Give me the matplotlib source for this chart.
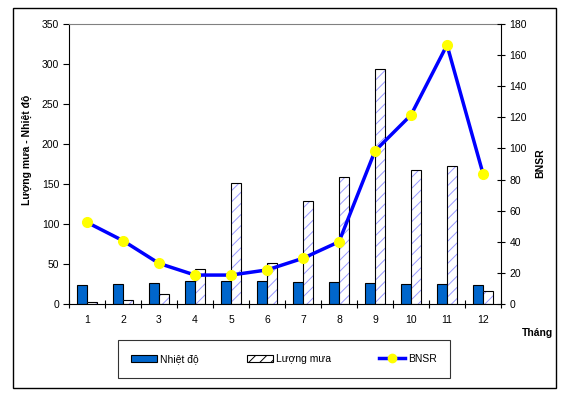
import numpy as np
import matplotlib
matplotlib.use("Agg")
import matplotlib.pyplot as plt
from matplotlib.patches import Rectangle, Patch
from matplotlib.lines import Line2D

plt.rcParams['font.family'] = ['Liberation Sans', 'DejaVu Sans']
plt.rcParams['font.size'] = 7.5
plt.rcParams['hatch.linewidth'] = 0.7

# data
months = ["1", "2", "3", "4", "5", "6", "7", "8", "9", "10", "11", "12"]
nhiet_do = [23.4, 24.6, 26.2, 28.7, 28.7, 28.7, 27.3, 27.5, 26.2, 25.0, 25.0, 23.7]
luong_mua = [2.5, 5.0, 12.5, 43.7, 151.0, 50.8, 128.7, 158.3, 293.3, 167.0, 172.0, 16.7]
bnsr = [52.5, 40.7, 26.1, 18.6, 18.6, 21.9, 29.4, 40.0, 98.4, 121.5, 166.5, 83.8]

W, H = 567, 399
fig = plt.figure(figsize=(W / 100, H / 100), dpi=100)

# outer chart frame
fig.patches.append(Rectangle((13 / W, 1 - 388 / H), (556 - 13) / W, (388 - 8) / H,
                             transform=fig.transFigure, fill=False, edgecolor='black', linewidth=1))

ax = fig.add_axes([69 / W, 1 - 304 / H, (501 - 69) / W, (304 - 24) / H])
x = np.arange(len(months))
bw = 0.29
ax.bar(x - bw / 2, nhiet_do, bw, color='#0066CC', edgecolor='black', linewidth=0.8, zorder=2)
ax.bar(x + bw / 2, luong_mua, bw, color='white', edgecolor='#9999FF', hatch='///', linewidth=0, zorder=2)
ax.bar(x + bw / 2, luong_mua, bw, fill=False, edgecolor='black', linewidth=0.8, zorder=3)

ax.set_xlim(-0.5, len(months) - 0.5)
ax.set_ylim(0, 350)
ax.set_yticks(np.arange(0, 351, 50))
ax.set_xticks(x)
ax.set_xticklabels(months)
ax.set_xticks(np.arange(-0.5, len(months), 1), minor=True)
ax.tick_params(axis='x', which='major', length=0, pad=8)
ax.tick_params(axis='x', which='minor', direction='inout', length=6, width=0.8)
ax.tick_params(axis='y', direction='out', length=4, width=0.8, pad=3)
ax.spines['top'].set_color('#808080')
ax.spines['right'].set_visible(False)
for s in ['left', 'bottom']:
    ax.spines[s].set_linewidth(0.8)

ax2 = ax.twinx()
ax2.plot(x, bnsr, color='#0000FF', linewidth=2.5, marker='o', markersize=7,
         markerfacecolor='#FFFF00', markeredgecolor='#FFFF00', zorder=4)
ax2.set_ylim(0, 180)
ax2.set_yticks(np.arange(0, 181, 20))
ax2.tick_params(axis='y', direction='inout', length=6, width=0.8, pad=3)
ax2.spines['right'].set_linewidth(0.8)
ax2.spines['top'].set_visible(False)
ax2.spines['left'].set_visible(False)
ax2.spines['bottom'].set_visible(False)

fig.text(27 / W, 1 - 150 / H, "Lượng mưa - Nhiệt độ", rotation=90, ha='center', va='center',
         fontweight='bold')
fig.text(540 / W, 1 - 163 / H, "BNSR", rotation=90, ha='center', va='center', fontweight='bold')
fig.text(538 / W, 1 - 333 / H, "Tháng", ha='center', va='center', fontweight='bold')

handles = [
    Patch(facecolor='#0066CC', edgecolor='black', linewidth=0.8),
    Patch(facecolor='white', edgecolor='black', hatch='///', linewidth=0.8),
    Line2D([], [], color='#0000FF', linewidth=2.5, marker='o', markersize=6,
           markerfacecolor='#FFFF00', markeredgecolor='#FFFF00'),
]
leg = fig.legend(handles, ["Nhiệt độ", "Lượng mưa", "BNSR"], loc='center',
                 bbox_to_anchor=(284 / W, 1 - 359 / H), ncol=3, frameon=True, fancybox=False,
                 edgecolor='black', columnspacing=4.6, handlelength=2.5, handletextpad=0.3,
                 borderpad=1.3, borderaxespad=0)
leg.get_frame().set_linewidth(0.8)

fig.savefig("out.png", dpi=100)
